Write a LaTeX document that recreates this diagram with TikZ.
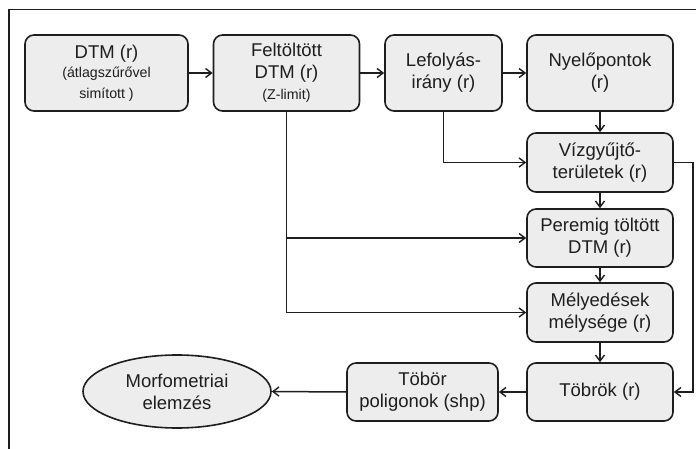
\documentclass[tikz,border=0pt]{standalone}
\usepackage{fontspec}
\setmainfont{Liberation Sans}
\usetikzlibrary{arrows.meta,shapes.geometric}
\definecolor{boxfill}{HTML}{EDEDED}
\definecolor{ink}{HTML}{1E1E1E}
\newcommand{\bigf}{\fontsize{18.5}{22}\selectfont}
\newcommand{\smallf}{\fontsize{14.2}{19}\selectfont}
\begin{document}
\begin{tikzpicture}[x=1pt,y=-1pt,
  stepbox/.style={draw=ink, line width=1.6pt, fill=boxfill, rounded corners=9pt,
    align=center, text=ink, font=\bigf, inner sep=0pt},
  ovalbox/.style={draw=ink, line width=1.6pt, fill=boxfill, ellipse,
    align=center, text=ink, font=\bigf, inner sep=0pt},
  conn/.style={draw=ink, line width=1.5pt, -{Straight Barb[length=6pt,width=9pt,line width=1.4pt]}},
  plain/.style={draw=ink, line width=1.5pt}]
\useasboundingbox (0,0) rectangle (696,449);
\draw[ink, line width=1.6pt] (9,449) -- (9,9.5) -- (696,9.5);
\node[stepbox, minimum width=163pt, minimum height=76pt] (dtm) at (106.5,73)
  {DTM (r)\\[-3pt]{\smallf (átlagszűrővel}\\[-1pt]{\smallf simított )}};
\node[stepbox, minimum width=146pt, minimum height=76pt] (felt) at (286.5,73)
  {Feltöltött\\DTM (r)\\[-1pt]{\smallf (Z-limit)}};
\node[stepbox, minimum width=117pt, minimum height=76pt] (lef) at (443.5,73)
  {Lefolyás-\\irány (r)};
\node[stepbox, minimum width=146pt, minimum height=76pt] (ny) at (600,73)
  {Nyelőpontok\\(r)};
\node[stepbox, minimum width=146pt, minimum height=59pt] (viz) at (600,162.5)
  {Vízgyűjtő-\\területek (r)};
\node[stepbox, minimum width=146pt, minimum height=58pt] (perem) at (600,238)
  {Peremig töltött\\DTM (r)};
\node[stepbox, minimum width=146pt, minimum height=59pt] (mely) at (600,312.5)
  {Mélyedések\\mélysége (r)};
\node[stepbox, minimum width=146pt, minimum height=58pt] (tob) at (600,392)
  {Töbrök (r)};
\node[stepbox, minimum width=151pt, minimum height=58pt] (tpol) at (422.5,392)
  {Töbör\\poligonok (shp)};
\node[ovalbox, minimum width=188pt, minimum height=73pt] (ell) at (177,391.5)
  {Morfometriai\\elemzés};
\draw[conn] (dtm.east) -- (felt.west);
\draw[conn] (felt.east) -- (lef.west);
\draw[conn] (lef.east) -- (ny.west);
\draw[conn] (ny.south) -- (viz.north);
\draw[conn] (lef.south) |- (viz.west);
\draw[conn] (viz.south) -- (perem.north);
\draw[conn] (perem.south) -- (mely.north);
\draw[conn] (mely.south) -- (tob.north);
\draw[conn] (felt.south) |- (mely.west);
\draw[conn] (felt.south |- perem.west) -- (perem.west);
\draw[conn] (viz.east) -- ++(19,0) |- (tob.east);
\draw[conn] (tob.west) -- (tpol.east);
\draw[conn] (tpol.west) -- (ell.east);
\end{tikzpicture}
\end{document}
